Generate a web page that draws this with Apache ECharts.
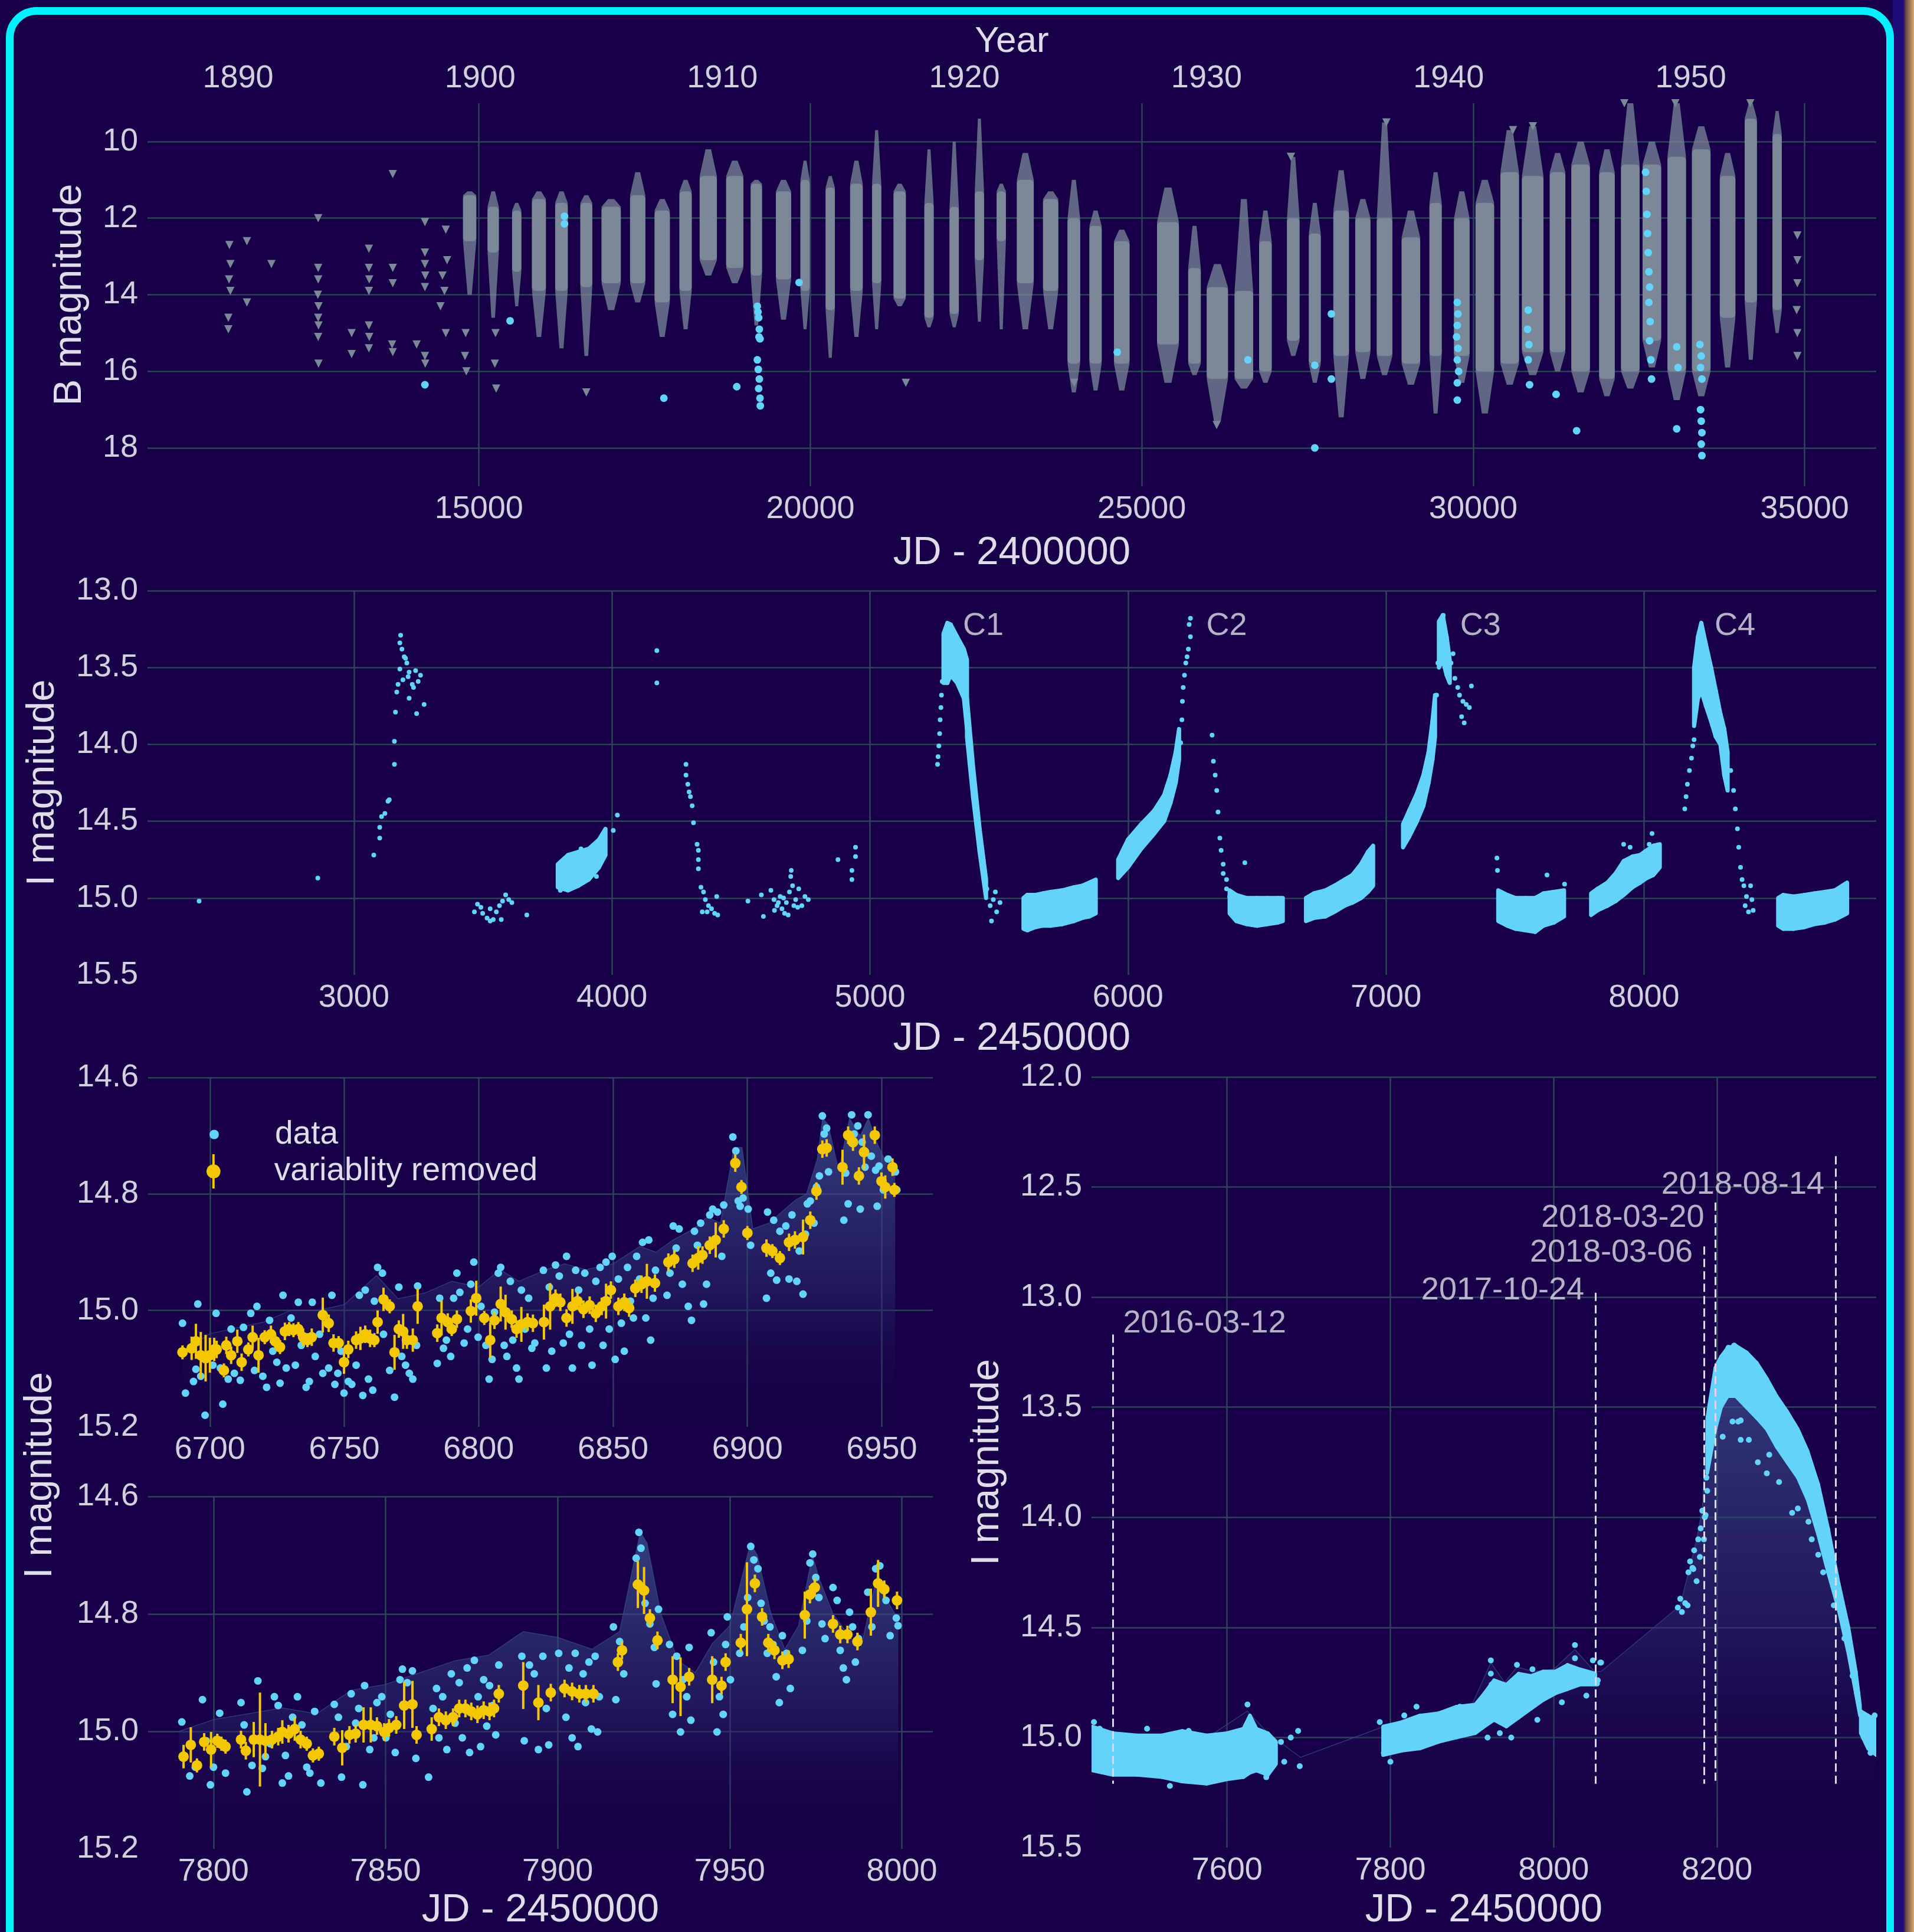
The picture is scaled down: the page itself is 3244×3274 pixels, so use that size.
<!DOCTYPE html>
<html>
<head>
<meta charset="utf-8">
<script src="https://cdn.jsdelivr.net/npm/echarts@6/dist/echarts.min.js"></script>
<style>
  html, body { margin: 0; padding: 0; background: #170047; overflow: hidden; }
  #edge { position: absolute; left: 3208px; top: 0; width: 36px; height: 3274px;
          background: linear-gradient(to right, #1d0c78 0%, #1d0c78 50%, #6b4a45 62%, #d9a86a 100%); }
  #frame { position: absolute; left: 10px; top: 12px; width: 3200px; height: 3400px; box-sizing: border-box;
           border: 13px solid #00f2ff; border-radius: 52px; }
  #main { position: absolute; left: 0; top: 0; width: 3244px; height: 3274px; }
</style>
</head>
<body>
<div id="edge"></div>
<div id="frame"></div>
<div id="main"></div>
<script>
// ---------- top panel: B magnitude, JD - 2400000 ----------
// season columns: [jdStart, jdEnd, looseBright, denseBright, denseFaint, looseFaint]
const topSeasons = [
  [14760,14960,11.3,11.4,12.6,14.0],[15130,15300,11.3,11.7,12.9,14.6],[15500,15640,11.6,11.8,13.4,14.3],
  [15800,16010,11.3,11.5,13.9,15.1],[16150,16340,11.3,11.6,13.9,15.4],[16530,16710,11.4,11.6,13.8,15.6],
  [16850,17140,11.5,11.7,13.7,14.4],[17280,17510,10.8,11.4,13.7,14.2],[17650,17880,11.5,11.8,14.2,15.1],
  [18025,18210,11.0,11.3,13.9,14.9],[18330,18590,10.2,10.9,13.1,13.5],[18730,18990,10.5,10.9,13.3,13.7],
  [19100,19270,11.0,11.1,13.5,14.8],[19480,19710,11.0,11.3,13.6,14.65],[19850,19990,10.5,11.0,13.9,14.9],
  [20230,20370,10.9,11.2,14.4,15.65],[20600,20790,10.5,11.1,13.9,15.1],[20930,21070,9.7,11.1,13.7,14.9],
  [21255,21440,11.1,11.3,14.1,14.3],[21720,21860,10.2,11.6,14.6,14.85],[22100,22240,10.0,11.7,14.5,14.85],
  [22480,22620,9.4,11.3,13.1,14.7],[22810,22950,11.1,11.3,12.6,14.9],[23115,23370,10.3,11.0,13.7,14.9],
  [23510,23740,11.3,11.5,13.9,14.9],[23880,24070,11.0,12.0,15.8,16.55],[24210,24395,11.8,12.2,15.8,16.5],
  [24580,24815,12.3,12.6,15.8,16.5],[25230,25560,11.2,12.1,15.3,16.3],[25700,25890,12.2,13.3,15.8,16.1],
  [25980,26300,13.2,13.8,16.2,17.3],[26400,26680,11.5,13.9,16.2,16.45],[26770,26960,11.8,12.6,16.0,16.3],
  [27190,27380,10.4,12.0,15.2,15.6],[27520,27700,11.6,12.4,15.8,16.3],[27890,28125,10.75,11.8,15.6,17.2],
  [28220,28450,11.5,12.0,15.5,16.2],[28545,28780,9.5,12.0,15.6,16.1],[28920,29200,11.8,12.5,15.8,16.35],
  [29340,29525,10.8,11.6,15.6,17.1],[29710,29945,11.3,12.0,15.6,16.3],[30035,30315,11.0,11.6,16.0,17.1],
  [30410,30690,9.7,10.8,15.8,16.35],[30735,31060,9.6,10.9,15.5,16.1],[31155,31390,10.3,10.8,15.5,16.0],
  [31480,31760,10.0,10.6,16.0,16.55],[31900,32135,10.2,10.8,16.2,16.65],[32230,32510,9.0,10.6,16.0,16.45],
  [32555,32835,10.0,10.6,15.2,15.9],[32930,33210,9.0,10.4,16.0,16.75],[33300,33580,9.6,10.2,16.0,16.65],
  [33720,33955,10.3,10.9,14.6,15.9],[34095,34280,9.0,9.4,14.2,15.7],[34515,34655,9.2,9.8,14.4,15.0]
];
const topSparse = [
  [11235,12.7],[11250,13.2],[11230,13.6],[11250,13.9],[11220,14.6],[11220,14.9],[11500,12.6],[11500,14.2],[11870,13.2],
  [12575,12.0],[12575,13.3],[12575,13.6],[12570,14.0],[12580,14.3],[12575,14.6],[12580,14.8],[12575,15.1],[12580,15.8],
  [13080,15.0],[13080,15.55],[13340,12.8],[13340,13.3],[13345,13.6],[13340,13.9],[13340,14.8],[13345,15.1],[13340,15.4],
  [13700,10.85],[13700,13.3],[13700,13.7],[13690,15.3],[13700,15.5],[14060,15.3],
  [14185,12.1],[14185,12.9],[14185,13.2],[14190,13.5],[14185,13.8],[14185,15.6],[14190,15.8],
  [14500,12.3],[14520,13.1],[14450,13.5],[14480,13.9],[14420,14.3],[14500,15.0],
  [14800,15.0],[14790,15.6],[14810,16.0],[15250,15.0],[15240,15.8],[15260,16.45],
  [16620,16.55],[21440,16.3],[23980,16.3],[26130,17.4],[27250,10.4],[28690,9.5],
  [30600,9.7],[30900,9.6],[32280,9.0],[33050,9.0],[34180,9.0],
  [34890,12.45],[34890,13.1],[34890,13.7],[34880,14.4],[34890,15.0],[34890,15.6]
];
const topCyan = [
  [14185,16.35],[15470,14.68],[16290,11.95],[16290,12.15],[17790,16.7],[18890,16.4],
  [19200,14.3],[19210,14.45],[19220,14.6],[19230,14.9],[19225,15.1],[19240,15.15],[19200,15.7],[19215,15.95],
  [19230,16.2],[19220,16.45],[19240,16.7],[19245,16.9],[19830,13.68],[24630,15.5],[26600,15.7],
  [27610,15.84],[27610,18.0],[27860,14.5],[27860,16.2],
  [29760,14.2],[29770,14.5],[29760,14.8],[29750,15.1],[29770,15.4],[29760,15.7],[29780,16.0],[29760,16.3],[29760,16.75],
  [30830,14.4],[30820,14.9],[30840,15.3],[30830,15.7],[30850,16.35],[31250,16.6],[31560,17.55],
  [32600,10.8],[32610,11.3],[32620,11.9],[32630,12.4],[32640,12.9],[32650,13.4],[32660,13.8],[32650,14.2],
  [32670,14.7],[32660,15.2],[32680,15.7],[32690,16.2],[33070,15.36],[33090,15.9],[33070,17.5],
  [33420,15.3],[33440,15.6],[33430,15.9],[33450,16.2],[33430,17.0],[33440,17.3],[33450,17.6],[33440,17.9],[33450,18.2]
];

// ---------- middle panel: I magnitude, JD - 2450000 ----------
const midPoints = [
  [2400,15.02],[2860,14.87],[3077,14.72],[3100,14.61],[3100,14.54],[3107,14.47],[3120,14.45],[3132,14.37],[3137,14.36],
  [3157,14.13],[3157,13.98],[3161,13.79],[3181,13.29],[3178,13.34],[3186,13.38],[3195,13.43],[3205,13.47],[3178,13.51],
  [3214,13.53],[3239,13.52],[3258,13.55],[3190,13.58],[3171,13.61],[3226,13.61],[3249,13.59],[3231,13.63],[3214,13.7],
  [3272,13.74],[3243,13.8],[3200,13.44],[3210,13.56],[3166,13.66],[4174,13.39],[4174,13.6],
  [3467,15.09],[3479,15.04],[3499,15.10],[3516,15.13],[3528,15.07],[3540,15.14],[3552,15.09],[3564,15.05],[3576,15.02],
  [3588,14.98],[3600,15.01],[3612,15.03],[3571,15.14],[3528,15.15],[3492,15.06],[3670,15.11],
  [4005,14.56],[4021,14.46],[3800,14.95],[3820,14.74],[3880,14.68],[3940,14.86],[3960,14.6],
  [4287,14.13],[4287,14.2],[4294,14.26],[4299,14.31],[4304,14.34],[4311,14.4],[4316,14.51],[4330,14.65],[4335,14.69],
  [4335,14.75],[4335,14.81],[4345,14.93],[4355,14.96],[4362,15.01],[4374,15.05],[4350,15.09],[4386,15.07],[4398,15.1],
  [4406,14.99],[4410,15.11],[4369,15.09],[4527,15.02],
  [4579,14.98],[4587,15.12],[4616,14.95],[4628,15.01],[4640,15.05],[4652,14.99],[4659,15.07],[4669,15.1],[4676,15.03],
  [4688,14.96],[4693,14.86],[4695,14.82],[4700,14.92],[4712,15.01],[4724,14.94],[4736,15.05],[4748,14.99],[4761,15.01],
  [4683,15.11],[4645,15.03],[4665,15.0],[4705,15.05],[4630,15.08],[4720,15.06],
  [4876,14.75],[4930,14.82],[4930,14.88],[4944,14.67],[4944,14.73],
  [5262,14.13],[5264,14.08],[5267,14.01],[5270,13.93],[5272,13.84],[5275,13.76],[5277,13.68],[5280,13.59],
  [5364,13.68],[5377,13.82],[5384,13.97],[5394,14.13],[5404,14.3],[5415,14.44],[5425,14.61],[5435,14.76],[5445,14.88],
  [5453,14.94],[5466,15.05],[5471,15.15],[5478,15.01],[5491,15.09],[5504,15.03],[5486,14.96],[5390,14.05],[5410,14.38],
  [5430,14.68],[5420,14.52],[5400,14.22],
  [6204,13.99],[6209,13.84],[6211,13.72],[6214,13.63],[6219,13.55],[6224,13.47],[6229,13.43],[6234,13.38],[6242,13.3],
  [6237,13.22],[6242,13.18],
  [6326,13.94],[6331,14.11],[6338,14.2],[6344,14.3],[6349,14.44],[6356,14.61],[6361,14.69],[6369,14.78],[6369,14.84],
  [6382,14.88],[6382,14.94],[6394,14.99],[6453,14.77],
  [7196,13.68],[7201,13.47],[7209,13.32],[7216,13.2],[7222,13.16],[7234,13.36],[7242,13.53],[7252,13.47],[7260,13.41],
  [7267,13.57],[7278,13.63],[7285,13.68],[7298,13.72],[7293,13.82],[7311,13.74],[7323,13.76],[7331,13.62],[7303,13.86],
  [7430,14.74],[7432,14.82],[7624,14.85],[7692,14.91],[7921,14.65],[7946,14.67],[8020,14.65],[8031,14.58],
  [8158,14.42],[8163,14.34],[8168,14.26],[8176,14.17],[8184,14.09],[8189,14.01],[8194,13.97],
  [8336,14.17],[8347,14.3],[8354,14.42],[8362,14.55],[8367,14.67],[8374,14.8],[8380,14.88],[8387,14.92],[8397,14.99],
  [8392,15.05],[8405,15.09],[8418,15.01],[8413,14.92],[8423,15.08]
];
// dense clouds: [jd, brightEdge, faintEdge]
const midBand3800 = [[3790,14.78,14.93],[3830,14.72,14.95],[3870,14.7,14.92],[3910,14.68,14.88],[3950,14.62,14.8],[3975,14.55,14.72]];
const midC1Peak = [[5285,13.28,13.6],[5300,13.21,13.6],[5313,13.22,13.55],[5338,13.3,13.6],[5364,13.38,13.7],[5376,13.45,13.9]];
const midC1Fall = [[5376,13.7,13.95],[5400,14.15,14.35],[5425,14.55,14.7],[5450,14.88,15.0]];
const midBlob1 = [[5595,15.0,15.2],[5610,14.98,15.21],[5640,14.98,15.19],[5670,14.97,15.18],[5700,14.96,15.18],[5745,14.95,15.17],[5790,14.93,15.15],[5822,14.92,15.13],[5850,14.9,15.12],[5875,14.88,15.1]];
const midC2Rise = [[5962,14.75,14.87],[6000,14.62,14.8],[6051,14.52,14.68],[6102,14.43,14.58],[6140,14.33,14.5],[6165,14.2,14.38],[6185,14.05,14.25],[6198,13.9,14.1]];
const midBlob2 = [[6394,14.95,15.1],[6420,14.98,15.15],[6460,15.0,15.17],[6500,15.0,15.18],[6540,15.0,15.17],[6580,15.0,15.16],[6600,15.0,15.15]];
const midBlob3 = [[6690,15.0,15.15],[6720,14.97,15.13],[6765,14.95,15.12],[6800,14.92,15.09],[6840,14.88,15.05],[6870,14.85,15.03],[6903,14.78,15.0],[6930,14.7,14.96],[6950,14.66,14.92]];
const midC3Rise = [[7066,14.52,14.67],[7090,14.43,14.6],[7120,14.32,14.5],[7145,14.2,14.4],[7165,14.05,14.25],[7180,13.85,14.1],[7190,13.68,13.95]];
const midC3Peak = [[7205,13.2,13.5],[7220,13.16,13.45],[7235,13.3,13.55],[7247,13.45,13.6]];
const midBlob4 = [[7435,14.95,15.15],[7470,14.98,15.18],[7502,15.0,15.2],[7540,15.0,15.21],[7578,15.0,15.22],[7610,14.97,15.18],[7650,14.96,15.16],[7690,14.95,15.12]];
const midBlob5 = [[7795,14.97,15.11],[7820,14.94,15.08],[7858,14.9,15.05],[7890,14.84,15.02],[7921,14.76,14.98],[7955,14.73,14.93],[7985,14.72,14.9],[8010,14.69,14.87],[8036,14.66,14.85],[8061,14.65,14.8]];
const midC4Peak = [[8194,13.5,13.88],[8209,13.3,13.7],[8222,13.21,13.65],[8240,13.35,13.75],[8260,13.5,13.85],[8278,13.65,13.95],[8296,13.8,14.0],[8311,13.9,14.2],[8324,14.05,14.3]];
const midBlob6 = [[8520,15.0,15.18],[8540,14.98,15.2],[8580,14.99,15.2],[8621,14.98,15.19],[8660,14.97,15.17],[8700,14.96,15.16],[8740,14.95,15.14],[8787,14.9,15.1]];
const cycleLabels = [['C1',5349,13.23],['C2',6292,13.23],['C3',7276,13.23],['C4',8262,13.23]];

// ---------- bottom left, upper: JD 6677-6969 ----------
const blAData = [
  [6689.8,15.022],[6690.9,15.142],[6693.9,15.122],[6694.8,15.101],[6695.5,14.989],[6696.6,15.113],[6698.2,15.180],[6699.3,15.079],
  [6701.1,15.094],[6702.3,15.005],[6703.9,15.099],[6704.8,15.161],[6706.8,15.118],[6707.9,15.032],[6709.1,15.108],[6711.3,15.120],
  [6712.5,15.029],[6715.2,15.005],[6716.6,15.103],[6717.5,14.993],[6719.7,15.113],[6721.1,15.132],[6722.2,15.017],[6723.4,15.070],
  [6724.9,15.089],[6726.1,15.125],[6727.2,14.974],[6728.4,15.099],[6730.2,15.013],[6731.8,15.094],[6732.9,14.986],[6734.0,15.060],
  [6735.8,15.132],[6737.0,15.122],[6738.1,14.986],[6739.2,15.079],[6740.8,15.041],[6742.0,15.108],[6744.2,15.099],[6745.4,14.974],
  [6746.5,15.127],[6747.6,15.108],[6748.8,15.070],[6749.9,15.142],[6751.5,15.122],[6752.8,15.127],[6754.4,15.094],[6755.6,14.974],
  [6756.9,15.146],[6757.8,14.965],[6759.0,15.118],[6760.6,15.137],[6761.2,14.984],[6762.4,14.926],[6764.2,14.936],[6764.6,15.041],
  [6766.9,15.103],[6768.7,15.149],[6770.3,14.960],[6771.4,15.079],[6772.8,15.094],[6774.2,15.108],[6775.5,15.118],[6776.9,15.060],
  [6777.3,14.958],[6784.6,15.091],[6785.5,14.979],[6786.9,15.065],[6788.0,15.051],[6789.6,15.079],[6790.7,14.979],[6791.9,14.936],
  [6793.0,14.969],[6794.6,15.056],[6795.9,15.032],[6797.1,14.955],[6798.2,14.917],[6799.8,15.046],[6800.9,14.993],[6802.7,15.060],
  [6803.9,15.118],[6805.0,15.084],[6805.9,15.003],[6807.3,14.936],[6808.2,14.926],[6809.5,15.060],[6810.5,15.079],[6811.8,14.950],
  [6812.7,15.051],[6814.1,15.099],[6815.0,15.118],[6815.9,14.965],[6817.3,15.032],[6818.6,14.979],[6819.8,15.065],[6820.9,15.056],
  [6824.1,14.931],[6825.2,15.099],[6826.3,14.960],[6827.2,15.070],[6828.6,14.922],[6830.0,14.941],[6831.5,15.056],[6832.7,14.907],
  [6833.8,15.041],[6834.9,15.099],[6836.1,14.931],[6837.2,14.965],[6838.3,15.060],[6839.5,14.936],[6841.3,15.032],[6842.2,15.094],
  [6843.6,14.950],[6845.2,14.926],[6846.3,15.060],[6847.4,14.917],[6848.6,15.032],[6849.7,14.907],[6850.8,15.084],[6852.0,14.946],
  [6853.1,15.022],[6854.2,15.070],[6855.4,14.926],[6856.5,14.984],[6857.6,15.013],[6858.8,14.907],[6859.9,14.946],[6861.0,14.883],
  [6862.2,15.013],[6863.3,14.879],[6864.0,15.051],[6864.9,14.979],[6865.8,14.931],[6870.1,14.974],[6871.2,14.936],[6872.4,14.855],
  [6873.5,14.893],[6874.6,14.860],[6875.8,14.955],[6878.0,14.993],[6879.2,15.017],[6880.3,14.864],[6881.4,14.888],[6882.6,14.850],
  [6883.7,14.989],[6884.8,14.955],[6886.0,14.836],[6887.1,14.826],[6888.9,14.831],[6890.5,14.907],[6891.2,14.819],[6894.6,14.702],
  [6895.7,14.726],[6896.6,14.812],[6897.3,14.821],[6898.4,14.807],[6900.3,14.826],[6901.2,14.888],[6907.1,14.979],[6907.5,14.831],
  [6908.7,14.936],[6909.8,14.845],[6910.9,14.948],[6912.1,14.864],[6914.3,14.855],[6915.5,14.946],[6916.6,14.836],[6918.4,14.950],
  [6919.3,14.898],[6920.7,14.972],[6921.6,14.869],[6922.3,14.817],[6923.4,14.812],[6924.8,14.850],[6925.7,14.788],[6926.8,14.769],
  [6927.9,14.666],[6928.6,14.697],[6929.5,14.687],[6930.2,14.762],[6935.9,14.845],[6936.6,14.764],[6937.5,14.817],[6938.8,14.664],
  [6939.7,14.697],[6941.1,14.683],[6942.0,14.826],[6942.7,14.711],[6943.8,14.754],[6944.9,14.664],[6946.1,14.735],[6947.7,14.759],
  [6948.3,14.821],[6949.0,14.752],[6950.6,14.793],[6952.4,14.740],[6953.6,14.754],[6955.1,14.762],[6955.6,14.793]
];
// [jd, mag, error]
const blAClean = [
  [6689.8,15.072,0.012],[6693.2,15.065,0.02],[6694.8,15.053,0.03],[6696.6,15.077,0.04],[6698.4,15.082,0.04],[6700.0,15.077,0.03],
  [6701.6,15.067,0.02],[6702.5,15.067,0.015],[6705.2,15.103,0.012],[6706.1,15.060,0.015],[6707.9,15.077,0.015],[6710.2,15.053,0.02],
  [6711.8,15.089,0.015],[6714.3,15.067,0.012],[6715.9,15.046,0.02],[6718.1,15.077,0.03],[6720.4,15.046,0.012],[6722.7,15.041,0.015],
  [6724.3,15.053,0.012],[6726.1,15.063,0.012],[6727.9,15.036,0.015],[6729.5,15.032,0.012],[6731.1,15.034,0.012],[6732.9,15.032,0.012],
  [6734.7,15.046,0.015],[6736.3,15.051,0.012],[6737.9,15.046,0.015],[6742.0,15.008,0.03],[6744.2,15.022,0.015],[6746.0,15.056,0.015],
  [6747.9,15.056,0.012],[6749.9,15.089,0.02],[6751.5,15.067,0.015],[6754.4,15.051,0.015],[6756.0,15.048,0.02],[6757.8,15.041,0.015],
  [6759.6,15.048,0.015],[6761.2,15.051,0.012],[6762.4,15.020,0.02],[6764.6,14.981,0.02],[6766.9,14.993,0.012],[6768.7,15.072,0.03],
  [6770.3,15.032,0.015],[6771.9,15.036,0.03],[6773.3,15.051,0.015],[6775.5,15.051,0.02],[6777.3,14.993,0.03],[6784.6,15.039,0.015],
  [6786.2,15.013,0.03],[6788.5,15.020,0.015],[6790.0,15.032,0.012],[6791.9,15.015,0.015],[6797.1,15.001,0.02],[6799.1,14.979,0.03],
  [6802.1,15.013,0.012],[6804.3,15.051,0.03],[6805.9,15.017,0.015],[6808.2,14.989,0.03],[6810.0,15.003,0.03],[6812.3,15.015,0.015],
  [6814.1,15.032,0.015],[6815.9,15.024,0.03],[6818.2,15.020,0.015],[6820.2,15.022,0.015],[6824.3,15.020,0.03],[6826.6,14.993,0.04],
  [6828.6,14.979,0.015],[6830.4,14.986,0.015],[6832.7,15.013,0.015],[6834.9,14.993,0.03],[6836.8,14.984,0.015],[6839.0,14.998,0.015],
  [6841.3,14.991,0.015],[6843.6,15.005,0.015],[6845.8,14.993,0.015],[6847.4,14.984,0.03],[6849.2,14.965,0.015],[6852.0,14.993,0.015],
  [6854.2,14.986,0.015],[6856.0,14.996,0.015],[6858.3,14.962,0.015],[6860.6,14.955,0.015],[6862.6,14.950,0.03],[6865.6,14.953,0.015],
  [6870.6,14.917,0.015],[6872.8,14.912,0.015],[6879.6,14.919,0.015],[6881.7,14.910,0.02],[6883.3,14.905,0.015],[6886.0,14.888,0.015],
  [6888.2,14.879,0.03],[6891.2,14.860,0.015],[6895.5,14.747,0.015],[6897.8,14.788,0.012],[6900.0,14.867,0.012],[6907.1,14.893,0.015],
  [6909.3,14.898,0.012],[6912.1,14.910,0.012],[6915.5,14.883,0.015],[6917.7,14.879,0.015],[6920.7,14.874,0.03],[6923.4,14.845,0.015],
  [6925.7,14.795,0.015],[6927.9,14.723,0.015],[6929.5,14.721,0.015],[6935.4,14.754,0.03],[6937.5,14.699,0.015],[6939.3,14.711,0.015],
  [6941.5,14.769,0.015],[6943.4,14.728,0.03],[6947.4,14.699,0.015],[6949.9,14.778,0.015],[6951.3,14.788,0.02],[6954.0,14.754,0.015],
  [6954.7,14.793,0.012]
];
const blAEnvelope = [
  [6690,15.07],[6700,15.04],[6710,15.03],[6720,15.02],[6730,15.0],[6740,15.0],[6750,14.99],[6762,14.94],[6770,14.98],[6780,14.97],
  [6790,14.95],[6800,14.96],[6808,14.93],[6815,14.95],[6825,14.93],[6832,14.92],[6840,14.93],[6850,14.92],[6860,14.89],[6866,14.9],
  [6872,14.88],[6880,14.86],[6885,14.84],[6890,14.85],[6895,14.72],[6898,14.72],[6902,14.86],[6908,14.85],[6913,14.83],[6918,14.81],
  [6922,14.8],[6926,14.74],[6928,14.67],[6930,14.68],[6934,14.76],[6938,14.67],[6942,14.7],[6945,14.67],[6948,14.71],[6952,14.75],[6955,14.75]
];

// ---------- bottom left, lower: JD 7781-8009 ----------
const blBData = [
  [7790.8,14.984],[7793.1,15.076],[7794.7,15.061],[7796.8,14.946],[7797.9,15.016],[7799.1,15.091],[7800.0,15.061],[7801.8,14.969],
  [7803.5,15.071],[7808.0,14.951],[7808.9,14.989],[7809.7,15.103],[7811.2,15.058],[7812.9,14.914],[7814.2,15.063],[7815.1,15.043],
  [7816.5,15.021],[7817.7,14.941],[7818.8,14.956],[7820.0,15.088],[7820.9,15.041],[7821.8,15.076],[7823.0,14.976],[7824.4,14.941],
  [7825.7,14.989],[7827.1,15.061],[7828.0,15.071],[7829.4,14.966],[7831.2,15.088],[7835.1,14.954],[7836.3,14.976],[7837.2,15.078],
  [7838.6,15.026],[7840.0,14.936],[7841.3,14.986],[7842.2,14.961],[7843.4,15.091],[7843.9,14.922],[7845.4,15.031],[7846.6,15.011],
  [7847.5,14.951],[7848.9,14.941],[7850.1,15.011],[7851.4,14.971],[7852.8,15.036],[7854.2,14.912],[7854.9,14.894],[7856.3,14.917],
  [7857.8,14.897],[7858.8,15.046],[7862.5,15.078],[7863.8,14.961],[7864.8,14.927],[7865.5,15.011],[7866.6,14.941],[7867.8,15.031],
  [7869.1,14.902],[7870.2,14.986],[7871.4,14.917],[7872.3,15.011],[7873.7,14.892],[7874.4,15.036],[7875.8,14.879],[7876.9,14.941],
  [7877.6,15.026],[7878.5,14.912],[7879.4,14.991],[7880.2,14.922],[7881.1,14.956],[7882.0,15.006],[7882.9,14.887],[7889.6,14.872],
  [7890.3,15.016],[7891.8,14.887],[7893.2,14.902],[7894.4,15.031],[7895.7,14.872],[7896.7,14.961],[7897.4,15.023],[7900.3,14.867],
  [7901.5,14.927],[7902.4,14.976],[7903.3,14.892],[7904.2,15.011],[7905.1,14.867],[7905.9,15.026],[7907.4,14.902],[7908.1,14.951],
  [7909.1,14.882],[7909.8,14.996],[7910.9,14.872],[7911.6,15.001],[7912.1,14.941],[7916.2,14.822],[7916.9,14.946],[7918.0,14.847],
  [7919.2,14.902],[7922.8,14.705],[7923.6,14.661],[7924.2,14.688],[7924.5,14.753],[7925.4,14.782],[7926.8,14.817],[7928.1,14.857],
  [7928.6,14.919],[7929.3,14.792],[7932.5,14.852],[7933.4,14.971],[7934.6,14.872],[7935.7,15.001],[7936.4,14.912],[7937.5,14.941],
  [7938.2,14.857],[7938.7,14.981],[7944.6,14.832],[7945.3,14.882],[7946.3,15.001],[7947.0,14.941],[7948.1,14.971],[7948.8,14.852],
  [7949.3,14.805],[7950.2,14.912],[7952.9,14.867],[7954.1,14.822],[7955.2,14.772],[7956.1,14.685],[7957.0,14.708],[7958.2,14.723],
  [7959.1,14.782],[7960.0,14.812],[7960.9,14.867],[7961.7,14.822],[7962.6,14.852],[7963.5,14.907],[7964.4,14.951],[7965.3,14.837],
  [7966.5,14.867],[7967.6,14.927],[7971.1,14.862],[7972.4,14.812],[7973.3,14.713],[7974.1,14.698],[7975.0,14.738],[7975.9,14.772],
  [7976.8,14.817],[7977.7,14.842],[7980.0,14.755],[7981.2,14.777],[7982.1,14.862],[7983.0,14.892],[7983.9,14.912],[7984.8,14.797],
  [7985.7,14.822],[7986.5,14.882],[7987.4,14.842],[7990.1,14.763],[7991.3,14.822],[7992.4,14.723],[7993.6,14.718],[7994.5,14.753],
  [7995.4,14.777],[7996.6,14.837],[7998.4,14.807],[7998.9,14.820]
];
const blBClean = [
  [7791.3,15.043,0.02],[7793.4,15.023,0.03],[7795.2,15.058,0.012],[7797.3,15.018,0.015],[7799.3,15.031,0.03],[7801.1,15.016,0.012],
  [7802.3,15.021,0.012],[7803.5,15.026,0.012],[7808.0,15.014,0.015],[7809.4,15.033,0.015],[7811.7,15.014,0.03],[7813.5,15.014,0.08],
  [7815.1,15.016,0.03],[7817.0,15.014,0.015],[7818.8,15.009,0.015],[7820.0,15.001,0.02],[7821.8,15.004,0.015],[7823.6,14.996,0.02],
  [7825.3,15.014,0.015],[7827.1,15.021,0.012],[7828.9,15.041,0.012],[7830.6,15.038,0.012],[7835.1,15.009,0.015],[7837.4,15.028,0.03],
  [7839.5,15.006,0.015],[7841.3,15.004,0.015],[7843.6,14.989,0.03],[7845.7,14.989,0.03],[7847.5,14.991,0.015],[7849.6,15.001,0.015],
  [7851.0,14.994,0.015],[7853.1,14.989,0.015],[7855.4,14.956,0.04],[7857.8,14.954,0.04],[7859.0,15.006,0.015],[7863.4,14.996,0.02],
  [7865.5,14.976,0.015],[7867.5,14.981,0.015],[7869.6,14.976,0.015],[7871.4,14.961,0.015],[7873.2,14.961,0.015],[7874.9,14.966,0.015],
  [7876.7,14.971,0.015],[7878.5,14.964,0.015],[7880.2,14.966,0.015],[7881.5,14.961,0.015],[7882.9,14.936,0.015],[7890.0,14.922,0.04],
  [7894.4,14.951,0.03],[7898.0,14.934,0.015],[7902.0,14.927,0.015],[7904.2,14.932,0.015],[7906.3,14.936,0.015],[7908.2,14.936,0.015],
  [7910.4,14.936,0.015],[7917.5,14.882,0.015],[7918.7,14.862,0.015],[7923.3,14.750,0.04],[7925.1,14.760,0.04],[7926.8,14.807,0.015],
  [7929.0,14.845,0.015],[7933.4,14.912,0.04],[7935.7,14.924,0.05],[7938.2,14.907,0.015],[7944.9,14.912,0.04],[7947.6,14.922,0.015],
  [7948.8,14.882,0.015],[7953.2,14.849,0.015],[7955.0,14.792,0.08],[7957.3,14.748,0.015],[7959.4,14.805,0.015],[7961.2,14.849,0.015],
  [7963.0,14.862,0.015],[7965.3,14.879,0.015],[7967.1,14.877,0.015],[7971.8,14.802,0.04],[7973.3,14.767,0.015],[7974.7,14.755,0.015],
  [7980.0,14.817,0.015],[7982.1,14.835,0.015],[7984.2,14.835,0.015],[7987.1,14.847,0.015],[7991.0,14.797,0.04],[7993.1,14.748,0.04],
  [7994.9,14.758,0.015],[7998.6,14.777,0.015]
];
const blBEnvelope = [
  [7790,15.0],[7800,14.98],[7810,14.97],[7820,14.96],[7830,14.97],[7840,14.93],[7850,14.92],[7860,14.9],[7870,14.88],[7880,14.87],
  [7890,14.83],[7900,14.84],[7910,14.86],[7918,14.83],[7924,14.66],[7926,14.68],[7930,14.8],[7935,14.88],[7940,14.9],[7945,14.85],
  [7950,14.82],[7956,14.68],[7958,14.7],[7962,14.8],[7966,14.86],[7970,14.82],[7974,14.7],[7976,14.74],[7980,14.8],[7985,14.84],
  [7988,14.86],[7993,14.73],[7996,14.78],[7999,14.81]
];

// ---------- bottom right: JD 7434-8395 ----------
const brPoints = [
  [7437,14.93],[7444,14.96],[7502,14.96],[7553,14.97],[7666,15.02],[7670,15.11],[7678,15.0],[7687,14.97],[7689,15.13],
  [7648,15.18],[7530,15.22],[7625,14.85],
  [7787,14.93],[7792,15.07],[7800,15.11],[7817,14.9],[7832,14.86],[7885,14.86],[7919,15.0],[7934,14.98],[7948,15.0],
  [7923,14.65],[7923,14.71],[7924,14.76],[7923,14.81],[7922,14.86],[7955,14.67],[7955,14.74],[7956,14.79],[7955,14.84],
  [7974,14.69],[7974,14.75],[7975,14.81],[7980,14.92],[8010,14.71],[8010,14.76],[8010,14.84],
  [8026,14.58],[8026,14.64],[8027,14.69],[8040,14.81],[8048,14.65],[8054,14.74],
  [8057,14.66],[8053,14.755],[8058,14.66],
  [8152,14.41],[8155,14.37],[8157,14.43],[8161,14.39],[8164,14.4],[8165,14.25],[8167,14.2],[8170,14.23],[8171,14.235],
  [8172,14.15],[8175,14.29],[8177,14.1],[8179,14.18],[8180,14.05],[8182,13.97],[8184,14.1],[8185,14.0],[8186,13.99],
  [8187,13.82],[8188,13.88],[8189,13.67],[8191,13.56],[8192,13.51],[8193,13.52],[8201,13.35],[8208,13.29],
  [8214,13.23],[8221,13.22],[8207,13.634],[8219,13.565],[8229,13.56],[8239,13.648],[8226,13.565],[8229,13.648],
  [8250,13.75],[8261,13.8],[8264,13.716],[8276,13.84],[8292,13.98],[8299,13.96],[8312,14.02],[8316,14.1],[8324,14.17],
  [8330,14.25],[8343,14.4],[8356,14.55],[8366,14.72],[8372,14.8],[8380,15.0],[8388,15.07],[8393,14.9]
];
const brLeftBand = [[7435,14.95,15.15],[7460,14.98,15.17],[7490,14.99,15.17],[7520,14.99,15.18],[7545,14.97,15.2],[7575,14.99,15.21],
  [7600,14.98,15.19],[7620,14.96,15.18],[7628,14.9,15.16],[7636,14.96,15.15],[7650,14.98,15.17],[7660,15.02,15.12]];
const brMidBand = [[7791,14.95,15.08],[7814,14.93,15.06],[7836,14.9,15.05],[7859,14.89,15.02],[7881,14.86,15.0],[7904,14.85,14.98],
  [7915,14.8,14.95],[7927,14.74,14.92],[7942,14.76,14.95],[7957,14.71,14.91],[7972,14.72,14.87],[7987,14.7,14.83],
  [8002,14.7,14.8],[8017,14.67,14.78],[8032,14.69,14.76],[8051,14.71,14.76]];
const brPeakBand = [[8188,13.55,13.8],[8198,13.32,13.6],[8205,13.27,13.5],[8213,13.23,13.45],[8223,13.22,13.45],[8236,13.25,13.5],
  [8249,13.3,13.55],[8261,13.37,13.6],[8273,13.45,13.68],[8286,13.52,13.75],[8299,13.6,13.82],[8311,13.7,13.92],
  [8324,13.85,14.08],[8336,14.05,14.25],[8349,14.3,14.42],[8361,14.5,14.62],[8370,14.7,14.8],[8375,14.85,14.9]];
const brTailBand = [[8376,14.88,14.98],[8385,14.9,15.05],[8395,14.92,15.08]];
const brEnvelope = [
  [7436,15.0],[7470,14.99],[7520,14.99],[7580,14.99],[7625,14.88],[7650,14.98],[7690,15.09],[7792,14.95],[7830,14.9],[7860,14.88],
  [7900,14.85],[7923,14.66],[7940,14.75],[7955,14.68],[7975,14.7],[8000,14.69],[8026,14.6],[8050,14.7],[8058,14.7],[8155,14.4],
  [8165,14.25],[8175,14.1],[8182,13.96],[8188,13.5],[8198,13.3],[8213,13.23],[8223,13.22],[8249,13.3],[8273,13.45],[8299,13.6],
  [8324,13.85],[8336,14.05],[8349,14.3],[8361,14.5],[8370,14.7],[8378,14.88],[8394,14.93]
];
// [date, jd, lineTopMag, labelMag, labelSide]
const dateMarks = [
  ['2016-03-12',7460,13.17,13.12,'right'],
  ['2017-10-24',8051,12.98,12.97,'left'],
  ['2018-03-06',8184,12.77,12.80,'left'],
  ['2018-03-20',8198,12.57,12.64,'left'],
  ['2018-08-14',8345,12.36,12.49,'left']
];
const dateLineFoot = 15.21;

// ---------- styling ----------
const FONT = "'Liberation Sans', Arial, sans-serif";
const CYAN = '#64d3fb', GRAY = '#7a8898', GOLD = '#f3c800';
const TICK = '#d4cfde', NAMEC = '#e0dce9', GRIDC = '#31425c';
const labelBase = {color: TICK, fontSize: 54, fontFamily: FONT};
const nameBase = {color: NAMEC, fontSize: 67, fontFamily: FONT};
const fixed1 = v => v.toFixed(1);
const plain = v => String(v);

function xAxis(gridIndex, min, max, extra) {
  return Object.assign({
    type: 'value', gridIndex, min, max,
    axisLine: {show: false}, axisTick: {show: false},
    axisLabel: Object.assign({margin: 12, showMinLabel: false, showMaxLabel: false, formatter: plain}, labelBase),
    splitLine: {show: true, showMinLine: false, showMaxLine: false, lineStyle: {color: GRIDC, width: 2.5}},
    nameLocation: 'middle', nameTextStyle: nameBase
  }, extra || {});
}
function yAxis(gridIndex, min, max, labels, minLine, extra) {
  return Object.assign({
    type: 'value', gridIndex, min, max, inverse: true,
    axisLine: {show: false}, axisTick: {show: false},
    axisLabel: Object.assign({margin: 16, showMinLabel: labels, showMaxLabel: labels,
      formatter: labels ? fixed1 : plain}, labelBase),
    splitLine: {show: true, showMinLine: minLine, showMaxLine: false, lineStyle: {color: GRIDC, width: 2.5}},
    nameLocation: 'middle', nameTextStyle: nameBase
  }, extra || {});
}

function points(name, data, xi, yi, size, color, z) {
  return {type: 'scatter', name, data, xAxisIndex: xi, yAxisIndex: yi, symbolSize: size,
    itemStyle: {color, opacity: 1}, silent: true, z: z || 3};
}
function band(data, xi, yi, width) {
  return {
    type: 'custom', xAxisIndex: xi, yAxisIndex: yi, data, clip: true, silent: true, z: 2,
    encode: {x: 0, y: [1, 2]},
    renderItem(params, api) {
      const i = params.dataIndex;
      if (i >= data.length - 1) return {type: 'group', children: []};
      const a = data[i], b = data[i + 1];
      const pts = [api.coord([a[0], a[1]]), api.coord([b[0], b[1]]), api.coord([b[0], b[2]]), api.coord([a[0], a[2]])];
      return {type: 'polygon', shape: {points: pts},
        style: {fill: CYAN, stroke: CYAN, lineWidth: width, lineJoin: 'round'}};
    }
  };
}
function envelope(data, xi, yi) {
  return {
    type: 'line', data, xAxisIndex: xi, yAxisIndex: yi, symbol: 'none', silent: true, z: 1,
    lineStyle: {width: 1.5, color: 'rgba(62,84,150,0.6)'},
    areaStyle: {origin: 'end', color: {type: 'linear', x: 0, y: 0, x2: 0, y2: 1, colorStops: [
      {offset: 0, color: 'rgba(66,94,156,0.95)'},
      {offset: 0.55, color: 'rgba(44,44,112,0.75)'},
      {offset: 1, color: 'rgba(24,0,71,0)'}]}}
  };
}
function cleaned(data, xi, yi) {
  return {
    type: 'custom', name: 'variablity removed', xAxisIndex: xi, yAxisIndex: yi, data, clip: true, silent: true, z: 4,
    itemStyle: {color: GOLD},
    encode: {x: 0, y: 1},
    renderItem(params, api) {
      const x = api.value(0), y = api.value(1), e = api.value(2);
      const t = api.coord([x, y - e]), b = api.coord([x, y + e]), c = api.coord([x, y]);
      return {type: 'group', children: [
        {type: 'line', shape: {x1: t[0], y1: t[1], x2: b[0], y2: b[1]}, style: {stroke: GOLD, lineWidth: 4}},
        {type: 'circle', shape: {cx: c[0], cy: c[1], r: 9}, style: {fill: GOLD}}
      ]};
    }
  };
}

const series = [];
// top panel: plate seasons as a dense core with tapering sparse tails
series.push({
  type: 'custom', name: 'plates', xAxisIndex: 0, yAxisIndex: 0, data: topSeasons, clip: true, silent: true, z: 2,
  encode: {x: [0, 1], y: [2, 5]},
  renderItem(params, api) {
    const s = topSeasons[params.dataIndex];
    const mid = (s[0] + s[1]) / 2, tip = (s[1] - s[0]) * 0.16;
    const outline = [
      api.coord([s[0], s[3]]), api.coord([mid - tip, s[2]]), api.coord([mid + tip, s[2]]), api.coord([s[1], s[3]]),
      api.coord([s[1], s[4]]), api.coord([mid + tip, s[5]]), api.coord([mid - tip, s[5]]), api.coord([s[0], s[4]])
    ];
    const c = api.coord([s[0], s[3]]), d = api.coord([s[1], s[4]]);
    return {type: 'group', children: [
      {type: 'polygon', shape: {points: outline}, style: {fill: GRAY, opacity: 0.75}},
      {type: 'rect', shape: {x: c[0], y: c[1], width: d[0] - c[0], height: d[1] - c[1], r: 6}, style: {fill: GRAY}}
    ]};
  }
});
series.push(Object.assign(points('limits', topSparse, 0, 0, 14, GRAY, 2), {symbol: 'triangle', symbolRotate: 180}));
series.push(points('plates B', topCyan, 0, 0, 13, CYAN, 3));

// middle panel
[midBand3800, midC1Peak, midC1Fall, midBlob1, midC2Rise, midBlob2, midBlob3, midC3Rise, midC3Peak,
 midBlob4, midBlob5, midC4Peak, midBlob6].forEach(b => series.push(band(b, 2, 1, 7)));
series.push(points('OGLE', midPoints, 2, 1, 8, CYAN, 3));
series.push({
  type: 'scatter', name: 'cycles', xAxisIndex: 2, yAxisIndex: 1, symbolSize: 0, silent: true, z: 5,
  data: cycleLabels.map(c => ({name: c[0], value: [c[1], c[2]]})),
  label: {show: true, position: 'right', distance: 5, formatter: p => p.name, color: NAMEC, fontSize: 54, fontFamily: FONT}
});

// bottom left panels
series.push(envelope(blAEnvelope, 3, 2));
series.push(points('data', blAData, 3, 2, 13, CYAN, 3));
series.push(cleaned(blAClean, 3, 2));
series.push(envelope(blBEnvelope, 4, 3));
series.push(points('data', blBData, 4, 3, 13, CYAN, 3));
series.push(cleaned(blBClean, 4, 3));

// bottom right panel
series.push(envelope(brEnvelope, 5, 4));
[brLeftBand, brMidBand, brPeakBand, brTailBand].forEach(b => series.push(band(b, 5, 4, 6)));
series.push(points('OGLE recent', brPoints, 5, 4, 10, CYAN, 3));
series.push({
  type: 'scatter', name: 'dates', xAxisIndex: 5, yAxisIndex: 4, symbolSize: 0, silent: true, z: 6,
  data: dateMarks.map(d => ({
    name: d[0],
    value: [d[4] === 'right' ? d[1] + 9 : d[1] - 10, d[3]],
    label: {position: d[4]}
  })),
  label: {show: true, distance: 5, formatter: p => p.name, color: NAMEC, fontSize: 54, fontFamily: FONT},
  markLine: {
    silent: true, symbol: ['none', 'none'], animation: false,
    label: {show: false},
    lineStyle: {type: [14, 7], color: '#dcd8e4', width: 3},
    data: dateMarks.map(d => [{coord: [d[1], d[2]]}, {coord: [d[1], dateLineFoot]}])
  }
});

const option = {
  animation: false,
  backgroundColor: 'transparent',
  textStyle: {fontFamily: FONT},
  grid: [
    {left: 250, top: 175, width: 2930, height: 649},
    {left: 250, top: 1001, width: 2930, height: 651},
    {left: 251, top: 1826, width: 1330, height: 592},
    {left: 251, top: 2536, width: 1330, height: 597},
    {left: 1850, top: 1825, width: 1330, height: 1306}
  ],
  xAxis: [
    xAxis(0, 10000, 36080, {interval: 5000, name: 'JD - 2400000', nameGap: 80}),
    {
      type: 'value', gridIndex: 0, position: 'top', min: 1886.26, max: 1957.66,
      axisLine: {show: false}, axisTick: {show: false}, splitLine: {show: false},
      axisLabel: Object.assign({margin: 15, showMinLabel: false, showMaxLabel: false, formatter: v => String(Math.round(v))}, labelBase),
      name: 'Year', nameLocation: 'middle', nameGap: 73,
      nameTextStyle: {color: NAMEC, fontSize: 62, fontFamily: FONT}
    },
    xAxis(1, 2200, 8900, {name: 'JD - 2450000', nameGap: 75}),
    xAxis(2, 6677, 6969),
    xAxis(3, 7781, 8009, {name: 'JD - 2450000', nameGap: 71}),
    xAxis(4, 7434, 8395, {name: 'JD - 2450000', nameGap: 73})
  ],
  yAxis: [
    yAxis(0, 9, 19, false, false, {name: 'B magnitude', nameGap: 98}),
    yAxis(1, 13, 15.5, true, true, {interval: 0.5, name: 'I magnitude', nameGap: 144}),
    yAxis(2, 14.6, 15.2, true, true, {interval: 0.2}),
    yAxis(3, 14.6, 15.2, true, true, {interval: 0.2}),
    yAxis(4, 12, 15.5, true, true, {interval: 0.5, name: 'I magnitude', nameGap: 143})
  ],
  legend: [
    {
      left: 350, top: 1890, orient: 'vertical', selectedMode: false, itemWidth: 16, itemHeight: 16,
      data: [{name: 'data', icon: 'circle', itemStyle: {color: CYAN}}],
      textStyle: {color: NAMEC, fontSize: 55, fontFamily: FONT, padding: [0, 0, 0, 90]}
    },
    {
      left: 345, top: 1951, orient: 'vertical', selectedMode: false, itemWidth: 26, itemHeight: 58,
      data: [{name: 'variablity removed', itemStyle: {color: GOLD},
        icon: 'path://M11,0H15V17.2A12,12 0 0 1 15,40.8V58H11V40.8A12,12 0 0 1 11,17.2Z'}],
      textStyle: {color: NAMEC, fontSize: 55, fontFamily: FONT, padding: [0, 0, 0, 85]}
    }
  ],
  graphic: [{
    type: 'text', x: 69, y: 2500, rotation: Math.PI / 2, silent: true,
    style: {text: 'I magnitude', fill: NAMEC, font: "67px 'Liberation Sans', Arial, sans-serif",
      align: 'center', verticalAlign: 'middle', textAlign: 'center', textVerticalAlign: 'middle'}
  }],
  series
};

const chart = echarts.init(document.getElementById('main'), null, {renderer: 'canvas'});
chart.setOption(option);
</script>
</body>
</html>
